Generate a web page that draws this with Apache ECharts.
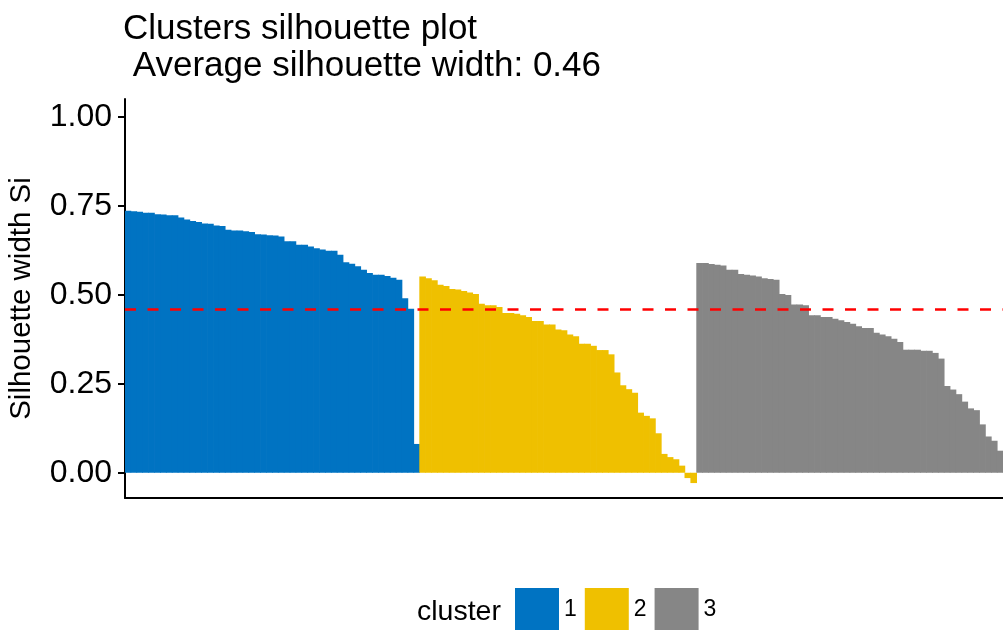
<!DOCTYPE html>
<html>
<head>
<meta charset="utf-8">
<script src="https://cdn.jsdelivr.net/npm/echarts@6/dist/echarts.min.js"></script>
<style>
  html, body { margin: 0; padding: 0; background: #fff; }
  #chart { width: 1003px; height: 630px; }
</style>
</head>
<body>
<div id="chart"></div>
<script>
// silhouette widths, sorted within each cluster
const cluster1 = [0.737, 0.735, 0.734, 0.731, 0.731, 0.727, 0.726, 0.724, 0.724, 0.718,
  0.712, 0.708, 0.705, 0.701, 0.700, 0.695, 0.694, 0.683, 0.681, 0.681,
  0.679, 0.677, 0.671, 0.670, 0.668, 0.667, 0.664, 0.651, 0.651, 0.641,
  0.641, 0.636, 0.631, 0.628, 0.624, 0.624, 0.613, 0.592, 0.588, 0.581,
  0.571, 0.562, 0.557, 0.557, 0.553, 0.548, 0.543, 0.491, 0.461, 0.081]
const cluster2 = [0.552, 0.547, 0.541, 0.529, 0.525, 0.517, 0.515, 0.511, 0.507, 0.503,
  0.475, 0.471, 0.471, 0.466, 0.449, 0.449, 0.447, 0.443, 0.438, 0.427,
  0.427, 0.417, 0.417, 0.403, 0.401, 0.389, 0.384, 0.363, 0.363, 0.357,
  0.345, 0.345, 0.333, 0.282, 0.246, 0.235, 0.225, 0.169, 0.160, 0.153,
  0.111, 0.053, 0.044, 0.038, 0.020, -0.015, -0.029]
const cluster3 = [0.590, 0.590, 0.587, 0.585, 0.583, 0.571, 0.571, 0.559, 0.557, 0.555,
  0.552, 0.547, 0.545, 0.543, 0.503, 0.500, 0.473, 0.473, 0.471, 0.443,
  0.443, 0.438, 0.438, 0.433, 0.429, 0.424, 0.419, 0.412, 0.407, 0.407,
  0.394, 0.389, 0.384, 0.377, 0.368, 0.346, 0.346, 0.346, 0.343, 0.343,
  0.337, 0.321, 0.244, 0.234, 0.221, 0.200, 0.181, 0.176, 0.136, 0.102,
  0.090, 0.062, 0.045]
const avgWidth = 0.46
const yTicks = [0, 0.25, 0.5, 0.75, 1]
const clusterNames = ['1', '2', '3']
const colors = ['#0073C2', '#EFC000', '#868686']

const chart = echarts.init(document.getElementById('chart'))

const all = [cluster1, cluster2, cluster3]
const total = cluster1.length + cluster2.length + cluster3.length
const categories = []
for (let i = 1; i <= total; i++) categories.push(String(i))

let offset = 0
const series = all.map((vals, k) => {
  const data = new Array(total).fill('-')
  vals.forEach((v, i) => { data[offset + i] = v })
  offset += vals.length
  const s = {
    name: clusterNames[k],
    type: 'bar',
    data: data,
    barGap: '-100%',
    barWidth: 6.6, // a bit wider than the category so neighbours touch
    itemStyle: { color: colors[k] }
  }
  if (k === 0) {
    s.markLine = {
      silent: true,
      symbol: 'none',
      label: { show: false },
      lineStyle: { color: '#FF0000', type: [11, 11.5], width: 2.6 },
      data: [{ yAxis: avgWidth }]
    }
  }
  return s
})

const font = 'Liberation Sans, Arial, Helvetica, sans-serif'

chart.setOption({
  animation: false,
  textStyle: { fontFamily: font },
  title: [{
    text: 'Clusters silhouette plot\n Average silhouette width: ' + avgWidth.toFixed(2),
    left: 118,
    top: 6,
    textStyle: { fontSize: 35, fontWeight: 'normal', color: '#000', lineHeight: 37, fontFamily: font }
  }, {
    text: 'cluster',
    left: 412,
    top: 593,
    textStyle: { fontSize: 28.5, fontWeight: 'normal', color: '#000', fontFamily: font }
  }],
  legend: {
    data: clusterNames,
    left: 510,
    top: 583,
    itemWidth: 44,
    itemHeight: 43,
    itemGap: 8,
    icon: 'rect',
    selectedMode: false,
    textStyle: { fontSize: 23, color: '#000', fontFamily: font }
  },
  grid: { left: 125, right: -6, top: 99, bottom: 132, containLabel: false, outerBoundsMode: 'none' },
  xAxis: {
    type: 'category',
    data: categories,
    boundaryGap: true,
    axisLine: { show: true, onZero: false, lineStyle: { color: '#000', width: 2 } },
    axisTick: { show: false },
    axisLabel: { show: false },
    splitLine: { show: false }
  },
  yAxis: {
    type: 'value',
    min: -0.071,
    max: 1.051,
    name: 'Silhouette width Si',
    nameLocation: 'middle',
    nameRotate: 90,
    nameGap: 88,
    nameTextStyle: { fontSize: 29.5, color: '#000', fontFamily: font },
    axisLine: { show: true, lineStyle: { color: '#000', width: 2 } },
    axisTick: { show: true, length: 7, customValues: yTicks, lineStyle: { color: '#000', width: 2 } },
    axisLabel: {
      customValues: yTicks,
      formatter: v => v.toFixed(2),
      fontSize: 32,
      color: '#000',
      margin: 13,
      fontFamily: font
    },
    splitLine: { show: false }
  },
  series: series
})
</script>
</body>
</html>
